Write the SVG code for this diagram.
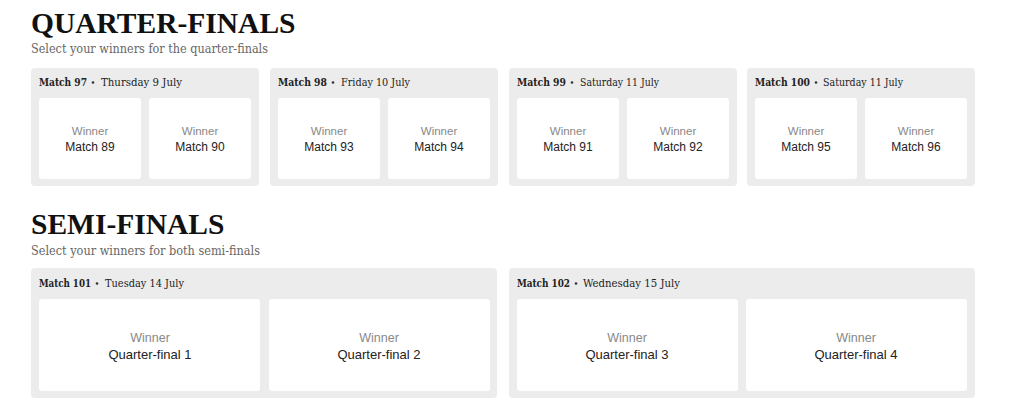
<svg xmlns="http://www.w3.org/2000/svg" width="1024" height="415" viewBox="0 0 1024 415">
<style>
.title{font-family:"Liberation Serif",serif;font-weight:bold;font-size:29.5px;fill:#111}
.sub{font-family:"DejaVu Serif",serif;font-size:12px;fill:#666}
.panel{fill:#ececec}
.card{fill:#fff}
.hdr{font-family:"DejaVu Serif",serif;font-size:10.5px;fill:#222}
.b{font-weight:bold}
.dot{fill:#333}
.w{font-family:"Liberation Sans",sans-serif;font-size:11.5px;fill:#888;text-anchor:middle}
.m{font-family:"Liberation Sans",sans-serif;font-size:12px;fill:#222;text-anchor:middle}
.w2{font-family:"Liberation Sans",sans-serif;font-size:12.5px;fill:#888;text-anchor:middle}
.m2{font-family:"Liberation Sans",sans-serif;font-size:13px;fill:#222;text-anchor:middle}
</style>
<rect width="1024" height="415" fill="#fff"/>
<text class="title" x="31" y="33">QUARTER-FINALS</text>
<text class="sub" x="31" y="53" textLength="237" lengthAdjust="spacingAndGlyphs">Select your winners for the quarter-finals</text>

<g id="m97">
<rect class="panel" x="31" y="68" width="228" height="118" rx="4"/>
<text class="hdr b" x="39" y="86" textLength="48" lengthAdjust="spacingAndGlyphs">Match 97</text>
<circle class="dot" cx="93" cy="82.5" r="1.3"/>
<text class="hdr" x="101" y="86" textLength="81" lengthAdjust="spacingAndGlyphs">Thursday 9 July</text>
<rect class="card" x="39" y="98" width="102" height="81" rx="3"/>
<rect class="card" x="149" y="98" width="102" height="81" rx="3"/>
<text class="w" x="90" y="135">Winner</text><text class="m" x="90" y="151">Match 89</text>
<text class="w" x="200" y="135">Winner</text><text class="m" x="200" y="151">Match 90</text>
</g>
<g id="m98">
<rect class="panel" x="270" y="68" width="228" height="118" rx="4"/>
<text class="hdr b" x="278" y="86" textLength="49" lengthAdjust="spacingAndGlyphs">Match 98</text>
<circle class="dot" cx="333" cy="82.5" r="1.3"/>
<text class="hdr" x="341" y="86" textLength="69" lengthAdjust="spacingAndGlyphs">Friday 10 July</text>
<rect class="card" x="278" y="98" width="102" height="81" rx="3"/>
<rect class="card" x="388" y="98" width="102" height="81" rx="3"/>
<text class="w" x="329" y="135">Winner</text><text class="m" x="329" y="151">Match 93</text>
<text class="w" x="439" y="135">Winner</text><text class="m" x="439" y="151">Match 94</text>
</g>
<g id="m99">
<rect class="panel" x="509" y="68" width="228" height="118" rx="4"/>
<text class="hdr b" x="517" y="86" textLength="49" lengthAdjust="spacingAndGlyphs">Match 99</text>
<circle class="dot" cx="572" cy="82.5" r="1.3"/>
<text class="hdr" x="580" y="86" textLength="79" lengthAdjust="spacingAndGlyphs">Saturday 11 July</text>
<rect class="card" x="517" y="98" width="102" height="81" rx="3"/>
<rect class="card" x="627" y="98" width="102" height="81" rx="3"/>
<text class="w" x="568" y="135">Winner</text><text class="m" x="568" y="151">Match 91</text>
<text class="w" x="678" y="135">Winner</text><text class="m" x="678" y="151">Match 92</text>
</g>
<g id="m100">
<rect class="panel" x="747" y="68" width="228" height="118" rx="4"/>
<text class="hdr b" x="755" y="86" textLength="55" lengthAdjust="spacingAndGlyphs">Match 100</text>
<circle class="dot" cx="816" cy="82.5" r="1.3"/>
<text class="hdr" x="823" y="86" textLength="80" lengthAdjust="spacingAndGlyphs">Saturday 11 July</text>
<rect class="card" x="755" y="98" width="102" height="81" rx="3"/>
<rect class="card" x="865" y="98" width="102" height="81" rx="3"/>
<text class="w" x="806" y="135">Winner</text><text class="m" x="806" y="151">Match 95</text>
<text class="w" x="916" y="135">Winner</text><text class="m" x="916" y="151">Match 96</text>
</g>

<text class="title" x="31" y="234">SEMI-FINALS</text>
<text class="sub" x="31" y="255" textLength="229" lengthAdjust="spacingAndGlyphs">Select your winners for both semi-finals</text>

<g id="m101">
<rect class="panel" x="31" y="268" width="466" height="130" rx="4"/>
<text class="hdr b" x="39" y="287" textLength="52" lengthAdjust="spacingAndGlyphs">Match 101</text>
<circle class="dot" cx="97" cy="283.5" r="1.3"/>
<text class="hdr" x="105" y="287" textLength="79" lengthAdjust="spacingAndGlyphs">Tuesday 14 July</text>
<rect class="card" x="39" y="299" width="221" height="92" rx="3"/>
<rect class="card" x="269" y="299" width="221" height="92" rx="3"/>
<text class="w2" x="150" y="342">Winner</text><text class="m2" x="150" y="359">Quarter-final 1</text>
<text class="w2" x="379" y="342">Winner</text><text class="m2" x="379" y="359">Quarter-final 2</text>
</g>
<g id="m102">
<rect class="panel" x="509" y="268" width="466" height="130" rx="4"/>
<text class="hdr b" x="517" y="287" textLength="53" lengthAdjust="spacingAndGlyphs">Match 102</text>
<circle class="dot" cx="576" cy="283.5" r="1.3"/>
<text class="hdr" x="583" y="287" textLength="97" lengthAdjust="spacingAndGlyphs">Wednesday 15 July</text>
<rect class="card" x="517" y="299" width="221" height="92" rx="3"/>
<rect class="card" x="746" y="299" width="221" height="92" rx="3"/>
<text class="w2" x="627" y="342">Winner</text><text class="m2" x="627" y="359">Quarter-final 3</text>
<text class="w2" x="856" y="342">Winner</text><text class="m2" x="856" y="359">Quarter-final 4</text>
</g>
<g id="connectors"/>
</svg>
